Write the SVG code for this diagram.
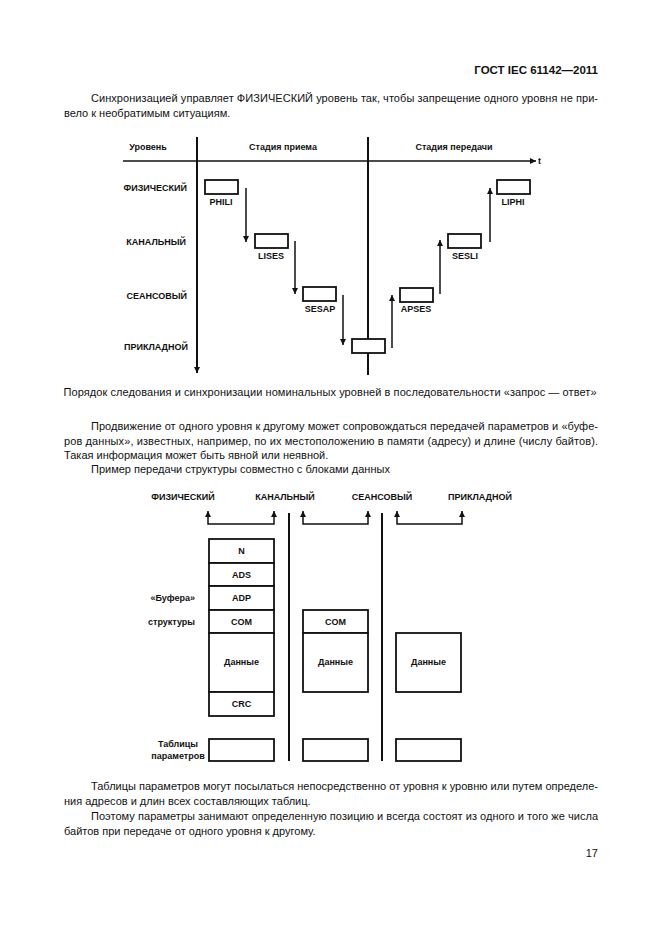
<svg xmlns="http://www.w3.org/2000/svg" width="661" height="935" viewBox="0 0 661 935">
<defs>
<style>
.body{font-family:"Liberation Sans",Arial,sans-serif;font-size:11px;fill:#111}
.hdr{font-family:"Liberation Sans",Arial,sans-serif;font-size:11.5px;font-weight:bold;fill:#111}
.lbl{font-family:"Liberation Sans",Arial,sans-serif;font-size:9px;font-weight:bold;fill:#111}
.box{fill:#fff;stroke:#111;stroke-width:1.8}
.ln{fill:none;stroke:#111;stroke-width:1.5}
.thick{fill:none;stroke:#111;stroke-width:2}
</style>
<marker id="ah" viewBox="0 0 6 6" refX="6" refY="3" markerWidth="6" markerHeight="6" markerUnits="userSpaceOnUse" orient="auto-start-reverse">
<path d="M0,0 L6,3 L0,6 z" fill="#111"/>
</marker>
</defs>
<rect width="661" height="935" fill="#fff"/>

<text class="hdr" x="598" y="74" text-anchor="end">ГОСТ IEC 61142—2011</text>

<g id="para1">
<text class="body" x="91" y="102" textLength="507" lengthAdjust="spacing">Синхронизацией управляет ФИЗИЧЕСКИЙ уровень так, чтобы запрещение одного уровня не при-</text>
<text class="body" x="64" y="117">вело к необратимым ситуациям.</text>
</g>

<!-- Top diagram -->
<g id="top-connectors">
<line class="ln" x1="123" y1="161" x2="536" y2="161" marker-end="url(#ah)"/>
<line class="thick" x1="197" y1="137" x2="197" y2="373" marker-end="url(#ah)"/>
<line class="thick" x1="368" y1="137" x2="368" y2="375"/>
<line class="ln" x1="246" y1="188" x2="246" y2="242" marker-end="url(#ah)"/>
<line class="ln" x1="295" y1="241" x2="295" y2="294" marker-end="url(#ah)"/>
<line class="ln" x1="343" y1="295" x2="343" y2="345" marker-end="url(#ah)"/>
<line class="ln" x1="392" y1="348" x2="392" y2="295" marker-end="url(#ah)"/>
<line class="ln" x1="440" y1="294" x2="440" y2="240" marker-end="url(#ah)"/>
<line class="ln" x1="490" y1="242" x2="490" y2="188" marker-end="url(#ah)"/>
</g>
<g id="top-headers">
<text class="lbl" x="148" y="150" text-anchor="middle">Уровень</text>
<text class="lbl" x="283" y="150" text-anchor="middle">Стадия приема</text>
<text class="lbl" x="454" y="150" text-anchor="middle">Стадия передачи</text>
<text class="lbl" x="538" y="164">t</text>
</g>
<g id="levels">
<text class="lbl" x="187" y="191" text-anchor="end">ФИЗИЧЕСКИЙ</text>
<text class="lbl" x="186" y="245" text-anchor="end">КАНАЛЬНЫЙ</text>
<text class="lbl" x="187" y="299" text-anchor="end">СЕАНСОВЫЙ</text>
<text class="lbl" x="188" y="350" text-anchor="end">ПРИКЛАДНОЙ</text>
</g>
<g id="PHILI"><rect class="box" x="205" y="180" width="33" height="14"/><text class="lbl" x="221" y="205" text-anchor="middle">PHILI</text></g>
<g id="LISES"><rect class="box" x="255" y="234" width="33" height="14"/><text class="lbl" x="271" y="259" text-anchor="middle">LISES</text></g>
<g id="SESAP"><rect class="box" x="303" y="287" width="33" height="14"/><text class="lbl" x="320" y="312" text-anchor="middle">SESAP</text></g>
<g id="APP"><rect class="box" x="352" y="339" width="33" height="14"/></g>
<g id="APSES"><rect class="box" x="400" y="288" width="33" height="14"/><text class="lbl" x="416" y="312" text-anchor="middle">APSES</text></g>
<g id="SESLI"><rect class="box" x="448" y="234" width="33" height="14"/><text class="lbl" x="465" y="259" text-anchor="middle">SESLI</text></g>
<g id="LIPHI"><rect class="box" x="497" y="180" width="33" height="14"/><text class="lbl" x="513" y="205" text-anchor="middle">LIPHI</text></g>

<text class="body" x="330" y="396" text-anchor="middle" textLength="533" lengthAdjust="spacing">Порядок следования и синхронизации номинальных уровней в последовательности «запрос — ответ»</text>

<g id="para2">
<text class="body" x="91" y="430" textLength="507" lengthAdjust="spacing">Продвижение от одного уровня к другому может сопровождаться передачей параметров и «буфе-</text>
<text class="body" x="64" y="445" textLength="534" lengthAdjust="spacing">ров данных», известных, например, по их местоположению в памяти (адресу) и длине (числу байтов).</text>
<text class="body" x="64" y="459">Такая информация может быть явной или неявной.</text>
<text class="body" x="91" y="473">Пример передачи структуры совместно с блоками данных</text>
</g>

<!-- Bottom diagram -->
<g id="bottom-headers">
<text class="lbl" x="183" y="500" text-anchor="middle">ФИЗИЧЕСКИЙ</text>
<text class="lbl" x="285" y="500" text-anchor="middle">КАНАЛЬНЫЙ</text>
<text class="lbl" x="382" y="500" text-anchor="middle">СЕАНСОВЫЙ</text>
<text class="lbl" x="480" y="500" text-anchor="middle">ПРИКЛАДНОЙ</text>
</g>
<g id="bottom-connectors">
<path class="ln" d="M208,511 V524 H274 V511" marker-start="url(#ah)" marker-end="url(#ah)"/>
<path class="ln" d="M303,511 V524 H368 V511" marker-start="url(#ah)" marker-end="url(#ah)"/>
<path class="ln" d="M397,511 V524 H462 V511" marker-start="url(#ah)" marker-end="url(#ah)"/>
<line class="thick" x1="289" y1="513" x2="289" y2="761"/>
<line class="thick" x1="382" y1="513" x2="382" y2="761"/>
</g>
<g id="stack-left">
<rect class="box" x="209" y="539" width="65" height="24"/><text class="lbl" x="241.5" y="554" text-anchor="middle">N</text>
<rect class="box" x="209" y="563" width="65" height="23"/><text class="lbl" x="241.5" y="578" text-anchor="middle">ADS</text>
<rect class="box" x="209" y="586" width="65" height="24"/><text class="lbl" x="241.5" y="601" text-anchor="middle">ADP</text>
<rect class="box" x="209" y="610" width="65" height="23"/><text class="lbl" x="241.5" y="625" text-anchor="middle">COM</text>
<rect class="box" x="209" y="633" width="65" height="59"/><text class="lbl" x="241.5" y="665" text-anchor="middle">Данные</text>
<rect class="box" x="209" y="692" width="65" height="24"/><text class="lbl" x="241.5" y="707" text-anchor="middle">CRC</text>
</g>
<g id="stack-mid">
<rect class="box" x="303" y="610" width="65" height="23"/><text class="lbl" x="335.5" y="625" text-anchor="middle">COM</text>
<rect class="box" x="303" y="633" width="65" height="59"/><text class="lbl" x="335.5" y="665" text-anchor="middle">Данные</text>
</g>
<g id="stack-right">
<rect class="box" x="396" y="633" width="65" height="59"/><text class="lbl" x="428.5" y="665" text-anchor="middle">Данные</text>
</g>
<g id="side-labels">
<text class="lbl" x="195" y="601" text-anchor="end">«Буфера»</text>
<text class="lbl" x="195" y="625" text-anchor="end">структуры</text>
<text class="lbl" x="178" y="747" text-anchor="middle">Таблицы</text>
<text class="lbl" x="178" y="759" text-anchor="middle">параметров</text>
</g>
<g id="tables">
<rect class="box" x="209" y="739" width="65" height="22"/>
<rect class="box" x="303" y="739" width="65" height="22"/>
<rect class="box" x="396" y="739" width="65" height="22"/>
</g>

<g id="para3">
<text class="body" x="91" y="790" textLength="507" lengthAdjust="spacing">Таблицы параметров могут посылаться непосредственно от уровня к уровню или путем определе-</text>
<text class="body" x="64" y="805">ния адресов и длин всех составляющих таблиц.</text>
<text class="body" x="91" y="820" textLength="507" lengthAdjust="spacing">Поэтому параметры занимают определенную позицию и всегда состоят из одного и того же числа</text>
<text class="body" x="64" y="835">байтов при передаче от одного уровня к другому.</text>
</g>
<text class="body" x="598" y="857" text-anchor="end">17</text>
</svg>
